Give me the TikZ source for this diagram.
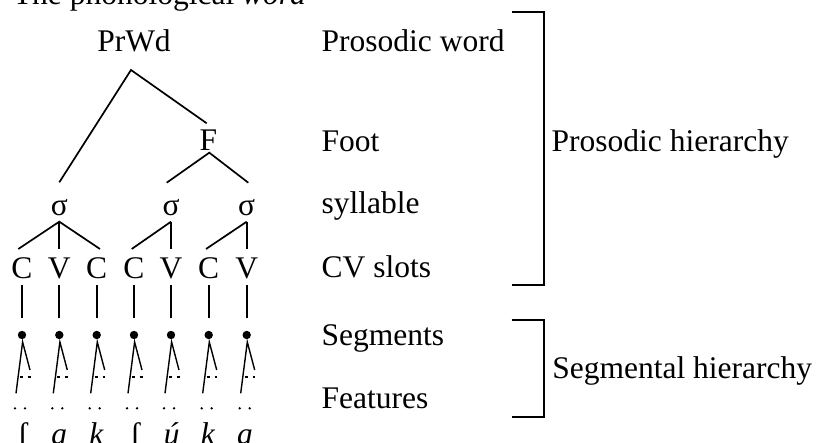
\documentclass[tikz,border=0pt]{standalone}
\usepackage{fontspec}
\setmainfont{Liberation Serif}
\begin{document}
\begin{tikzpicture}[x=1pt,y=-1pt,
  every node/.style={font=\fontsize{31.5}{36}\selectfont, inner sep=0pt, outer sep=0pt},
  lbl/.style={anchor=base west},
  tnode/.style={anchor=base},
  tline/.style={line width=1.7pt},
  vline/.style={line width=2.1pt},
  fline/.style={line width=1.4pt},
  bracketline/.style={line width=2.2pt},
  segdot/.style={circle, fill=black, minimum size=8.4pt},
  featdot/.style={circle, fill=black, minimum size=2.6pt},
  featdash/.style={line width=1.4pt}]
\useasboundingbox (0,0) rectangle (819,443);

% title
\node[lbl] (title) at (13,5) {The phonological \textit{word}};

% level labels
\node[lbl] (lprwd) at (321.7,52) {Prosodic word};
\node[lbl] (lfoot) at (321.7,151.7) {Foot};
\node[lbl] (lsyl) at (321.7,213.5) {syllable};
\node[lbl] (lcv) at (321.7,277.5) {CV slots};
\node[lbl] (lseg) at (321.7,345) {Segments};
\node[lbl] (lfeat) at (321.7,408.3) {Features};
\node[lbl] (lpros) at (551.7,151.7) {Prosodic hierarchy};
\node[lbl] (lsegh) at (552.3,378.3) {Segmental hierarchy};

% brackets
\coordinate (b1a) at (511.7,12.3);
\coordinate (b1b) at (544,12.3);
\coordinate (b1c) at (544,285);
\coordinate (b1d) at (511.7,285);
\draw[bracketline] (b1a) -- (b1b) -- (b1c) -- (b1d);
\coordinate (b2a) at (511.7,320);
\coordinate (b2b) at (544,320);
\coordinate (b2c) at (544,416.7);
\coordinate (b2d) at (511.7,416.7);
\draw[bracketline] (b2a) -- (b2b) -- (b2c) -- (b2d);

% tree nodes
\node[tnode] (prwd) at (134,52) {PrWd};
\node[tnode] (foot) at (208.5,151) {F};
\node[tnode] (s1) at (59.3,215.5) {σ};
\node[tnode] (s2) at (171,215.5) {σ};
\node[tnode] (s3) at (246.7,215.5) {σ};

% attachment points
\coordinate (prwdB) at (131,70);
\coordinate (s1T) at (59.3,182.3);
\coordinate (fT) at (206.7,123.3);
\coordinate (fB) at (209.3,152.7);
\coordinate (s2T) at (166.7,182.7);
\coordinate (s3T) at (248.3,182.7);
\coordinate (s1B) at (59.3,221.7);
\coordinate (s2B) at (171,221.7);
\coordinate (s3B) at (246.7,221.7);

\draw[tline] (s1T) -- (prwdB) -- (fT);
\draw[tline] (s2T) -- (fB) -- (s3T);

% CV slots, segments and features
\foreach \c/\t [count=\i] in {22/C,59.3/V,96.7/C,134/C,171/V,208.7/C,246.7/V}{
  \node[tnode] (cv\i) at (\c,278.3) {\t};
  \coordinate (cvT\i) at (\c,249);
  \coordinate (cvB\i) at (\c,285);
  \coordinate (sgT\i) at (\c,318.3);
  \draw[vline] (cvB\i) -- (sgT\i);
  \node[segdot] (seg\i) at (\c,335) {};
  \coordinate (fa\i) at (\c+0.6,342);
  \coordinate (fr\i) at (\c+8,370);
  \coordinate (fl\i) at (\c-6,393.3);
  \draw[fline] (fr\i) -- (fa\i) -- (fl\i);
  \coordinate (da\i) at (\c-2,377);
  \coordinate (db\i) at (\c+1,377);
  \coordinate (dc\i) at (\c+5.8,377);
  \coordinate (dd\i) at (\c+8.6,377);
  \draw[featdash] (da\i) -- (db\i);
  \draw[featdash] (dc\i) -- (dd\i);
  \node[featdot] (fda\i) at (\c-7,408.3) {};
  \node[featdot] (fdb\i) at (\c+3,408.3) {};
}

% sigma to CV
\coordinate (c1L) at (18.3,249);
\coordinate (c3R) at (100,249);
\coordinate (c4L) at (131.7,249);
\coordinate (c6L) at (206,249);
\draw[tline] (c1L) -- (s1B) -- (c3R);
\draw[vline] (s1B) -- (cvT2);
\draw[tline] (c4L) -- (s2B);
\draw[vline] (s2B) -- (cvT5);
\draw[tline] (c6L) -- (s3B);
\draw[vline] (s3B) -- (cvT7);

% segments
\node[tnode] (w1) at (22.7,444) {ʃ};
\node[tnode] (w2) at (59.3,444) {\textit{a}};
\node[tnode] (w3) at (96.7,444) {\textit{k}};
\node[tnode] (w4) at (135,444) {ʃ};
\node[tnode] (w5) at (171.7,444) {\textit{ú}};
\node[tnode] (w6) at (208,444) {\textit{k}};
\node[tnode] (w7) at (245,444) {\textit{a}};
\end{tikzpicture}
\end{document}
